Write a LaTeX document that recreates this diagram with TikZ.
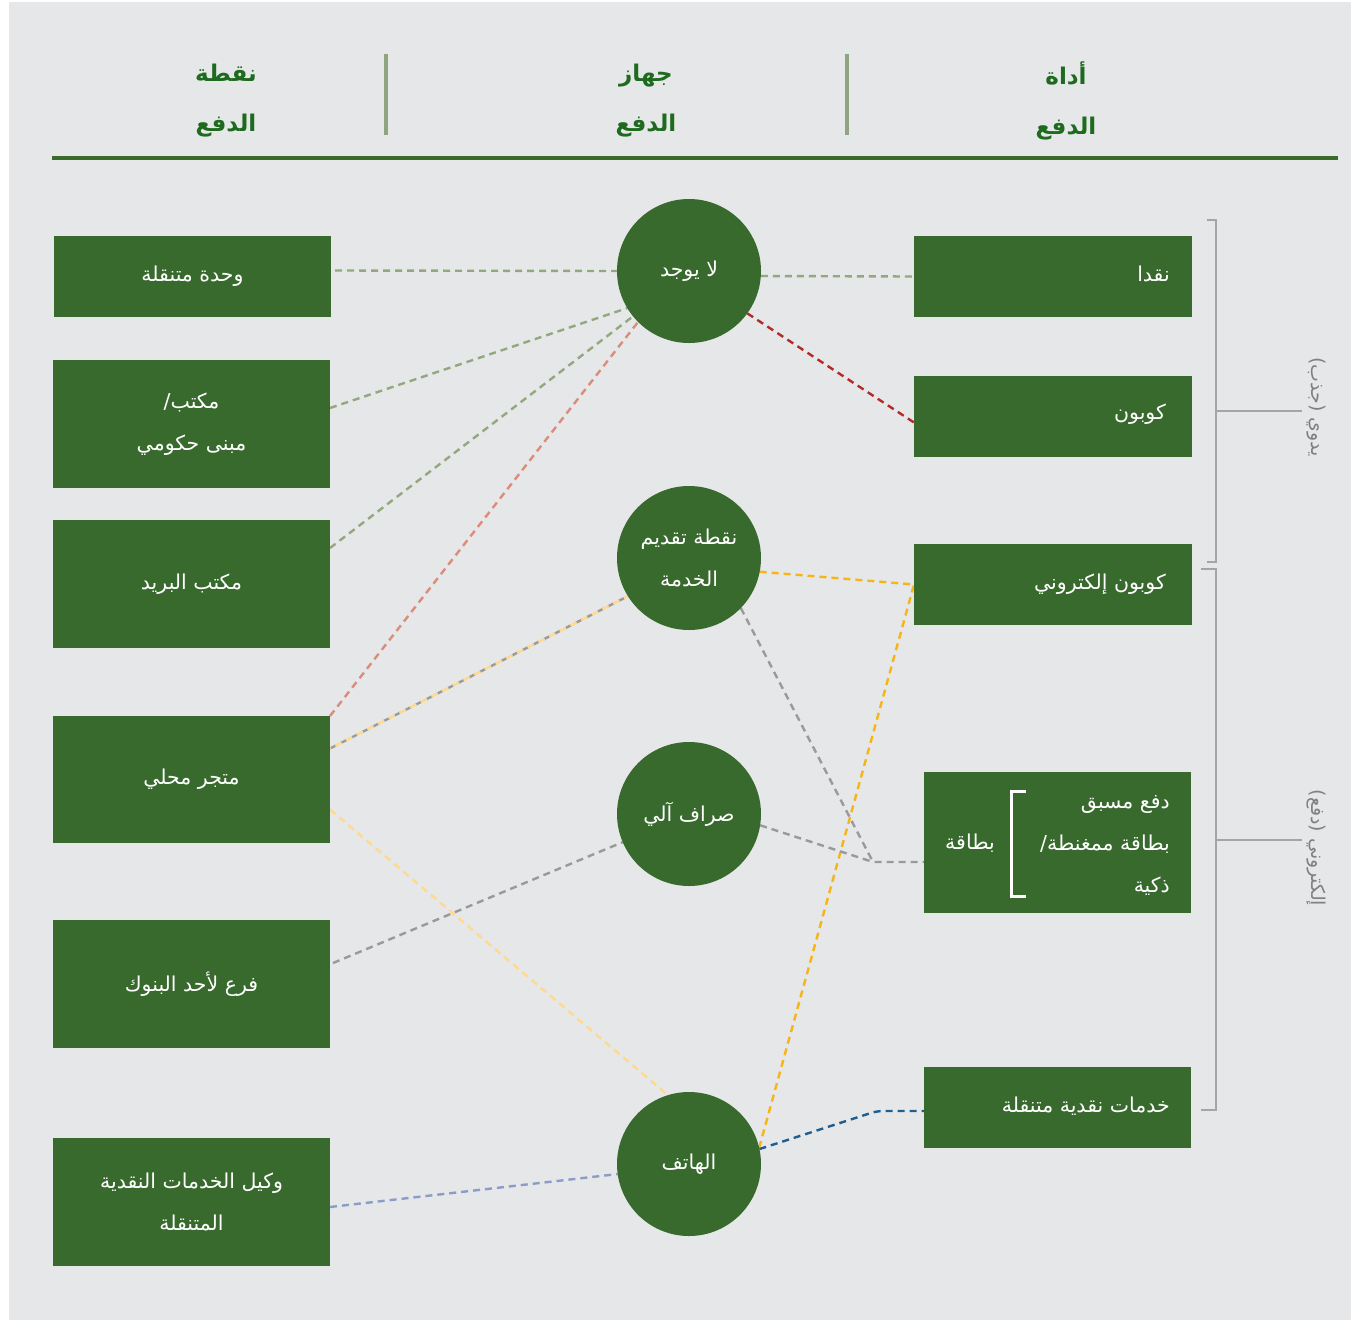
\documentclass[tikz,border=0pt]{standalone}
\usepackage{fontspec}
\newfontfamily\arabicfont[Script=Arabic]{DejaVu Sans}
\TeXXeTstate=1
\definecolor{bggray}{HTML}{E6E7E9}
\definecolor{boxgreen}{HTML}{386A2E}
\definecolor{headgreen}{HTML}{1E6A1E}
\definecolor{sepgreen}{HTML}{8FA57F}
\definecolor{rulegreen}{HTML}{3A6B2A}
\definecolor{cgreen}{HTML}{93A87F}
\definecolor{csalmon}{HTML}{DB8C7A}
\definecolor{cgray}{HTML}{9A9A9A}
\definecolor{cyellow}{HTML}{FFD98C}
\definecolor{camber}{HTML}{F7B416}
\definecolor{cred}{HTML}{B22A2A}
\definecolor{cblue}{HTML}{1F5F8F}
\definecolor{cblueg}{HTML}{8A9DC8}
\definecolor{brkgray}{HTML}{A5A5A5}
\definecolor{labgray}{HTML}{808080}
\pgfdeclarelayer{bg}
\pgfsetlayers{bg,main}
\tikzset{
  boxtxt/.style={text=white, font=\arabicfont\fontsize{20.5}{42}\selectfont, align=center, inner sep=0pt},
  lbox/.style={rectangle, fill=boxgreen, draw=none, minimum width=277pt, minimum height=128pt, inner sep=0pt, outer sep=0pt, boxtxt},
  rbox/.style={rectangle, fill=boxgreen, draw=none, minimum width=277pt, minimum height=81pt, inner sep=0pt, outer sep=0pt},
  circ/.style={circle, fill=boxgreen, draw=none, minimum size=144pt, inner sep=0pt, outer sep=0pt, boxtxt},
  head/.style={text=headgreen, font=\arabicfont\bfseries\fontsize{23}{50}\selectfont, align=center, inner sep=0pt},
  sidelab/.style={text=labgray, font=\arabicfont\fontsize{19}{22}\selectfont, inner sep=0pt, rotate=-90},
  con/.style={line width=2.4pt, dash pattern=on 7pt off 5pt},
  brk/.style={draw=brkgray, line width=2.5pt},
}
\begin{document}
\begin{tikzpicture}[x=1pt,y=-1pt]
\useasboundingbox (0,0) rectangle (1351,1320);
% header
\node[head] (h1) at (226,101) {\beginR نقطة\endR\\\beginR الدفع\endR};
\node[head] (h2) at (646,101) {\beginR جهاز\endR\\\beginR الدفع\endR};
\node[head] (h3) at (1066,101) {\beginR أداة\endR\\\beginR الدفع\endR};
\draw[sepgreen, line width=4pt] (386,54) -- (386,135);
\draw[sepgreen, line width=4pt] (847,54) -- (847,135);
\draw[rulegreen, line width=4pt] (52,158) -- (1338,158);
% left boxes
\node[lbox, minimum height=81pt] (L1) at (192.5,276.5) {\beginR وحدة متنقلة\endR};
\node[lbox] (L2) at (191.5,424) {\beginR مكتب/\endR\\\beginR مبنى حكومي\endR};
\node[lbox] (L3) at (191.5,584) {\beginR مكتب البريد\endR};
\node[lbox, minimum height=127pt] (L4) at (191.5,779.5) {\beginR متجر محلي\endR};
\node[lbox] (L5) at (191.5,984) {\beginR فرع لأحد البنوك\endR};
\node[lbox] (L6) at (191.5,1202) {\beginR وكيل الخدمات النقدية\endR\\\beginR المتنقلة\endR};
% circles
\node[circ] (C1) at (689,271) {\beginR لا يوجد\endR};
\node[circ] (C2) at (689,558) {\beginR نقطة تقديم\endR\\\beginR الخدمة\endR};
\node[circ] (C3) at (689,814) {\beginR صراف آلي\endR};
\node[circ] (C4) at (689,1164) {\beginR الهاتف\endR};
% right boxes
\node[rbox, minimum width=278pt] (R1) at (1053,276.5) {};
\node[rbox, minimum width=278pt] (R2) at (1053,416.5) {};
\node[rbox, minimum width=278pt] (R3) at (1053,584.5) {};
\node[rbox, minimum width=267pt, minimum height=141pt] (R4) at (1057.5,842.5) {};
\node[rbox, minimum width=267pt] (R5) at (1057.5,1107.5) {};
\node[boxtxt, anchor=east] (t1) at (1170,274) {\beginR نقدا\endR};
\node[boxtxt, anchor=east] (t2) at (1166,414) {\beginR كوبون\endR};
\node[boxtxt, anchor=east] (t3) at (1166,584) {\beginR كوبون إلكتروني\endR};
\node[boxtxt, anchor=east, align=right] (t4) at (1170,845) {\beginR دفع مسبق\endR\\\beginR بطاقة ممغنطة/\endR\\\beginR ذكية\endR};
\node[boxtxt] (t4b) at (970,843) {\beginR بطاقة\endR};
\draw[white, line width=3pt] (1026,791) -- (1011,791) -- (1011,896) -- (1026,896);
\node[boxtxt, anchor=east] (t5) at (1170,1106) {\beginR خدمات نقدية متنقلة\endR};
% side brackets
\draw[brk] (1207,220) -- (1216,220) -- (1216,562) -- (1207,562);
\draw[brk] (1216,411) -- (1302,411);
\draw[brk] (1201,569) -- (1216,569) -- (1216,1110) -- (1201,1110);
\draw[brk] (1216,840) -- (1302,840);
\node[sidelab] (s1) at (1316,407) {\beginR يدوي (جذب)\endR};
\node[sidelab] (s2) at (1316,848) {\beginR إلكتروني (دفع)\endR};
\coordinate (j1) at (873,862);
\coordinate (j2) at (877,1111);
\begin{pgfonlayer}{bg}
\fill[white] (0,0) rectangle (1351,1320);
\fill[bggray] (9,2) rectangle (1351,1320);
% left connectors
\draw[con, cgreen] ([xshift=4pt,yshift=6pt]L1.east) -- (C1.west);
\draw[con, cgreen] ([yshift=16pt]L2.east) -- (C1.211);
\draw[con, cgreen] ([yshift=36pt]L3.east) -- (C1.219);
\draw[con, csalmon] (L4.north east) -- (C1.225);
\draw[con, cgray] ([yshift=31pt]L4.east) -- (C2.212);
\draw[con, cyellow, dash phase=6pt] ([yshift=31pt]L4.east) -- (C2.212);
\draw[con, cyellow] ([yshift=-30pt]L4.east) -- (C4.107);
\draw[con, cgray] ([xshift=3pt,yshift=21pt]L5.east) -- (C3.203);
\draw[con, cblueg] ([yshift=-5pt]L6.east) -- (C4.188);
% right connectors
\draw[con, cgreen] (C1.-4) -- (R1.west);
\draw[con, cred] (C1.-36) -- ([yshift=-6pt]R2.west);
\draw[con, camber] (C2.-11) -- (R3.west) -- (C4.13);
\draw[con, cgray] (C2.-44) -- (j1) -- ([yshift=-19.5pt]R4.west);
\draw[con, cgray] (C3.-9) -- (j1);
\draw[con, cblue, rounded corners=6pt] (C4.12) -- (j2) -- ([yshift=-3.5pt]R5.west);
\end{pgfonlayer}
\end{tikzpicture}
\end{document}
